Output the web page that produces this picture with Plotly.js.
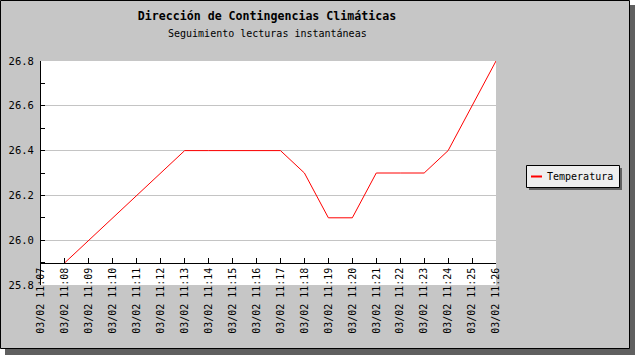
<!DOCTYPE html>
<html>
<head>
<meta charset="utf-8">
<script src="https://cdn.plot.ly/plotly-3.0.1.min.js"></script>
<style>html,body{margin:0;padding:0;background:#fff;}#chart{width:635px;height:355px;}</style>
</head>
<body>
<div id="chart"></div>
<script>
const times = ['03/02 11:07','03/02 11:08','03/02 11:09','03/02 11:10','03/02 11:11','03/02 11:12','03/02 11:13','03/02 11:14','03/02 11:15','03/02 11:16','03/02 11:17','03/02 11:18','03/02 11:19','03/02 11:20','03/02 11:21','03/02 11:22','03/02 11:23','03/02 11:24','03/02 11:25','03/02 11:26'];
const temperatura = [null, 25.9, 26.0, 26.1, 26.2, 26.3, 26.4, 26.4, 26.4, 26.4, 26.4, 26.3, 26.1, 26.1, 26.3, 26.3, 26.3, 26.4, 26.6, 26.8];
const seriesName = 'Temperatura';
const titleText = 'Dirección de Contingencias Climáticas';
const subtitleText = 'Seguimiento lecturas instantáneas';

const W = 635, H = 355, L = 41, R = 139, T = 61, B = 70;
const PW = W - L - R, PH = H - T - B;
const px = v => (v - L) / PW;
const py = v => (H - B - v) / PH;
const MONO = '"DejaVu Sans Mono", "Liberation Mono", monospace';

const rect = (x0, y0, x1, y1, fill, line, layer) => ({
  type: 'rect', xref: 'paper', yref: 'paper',
  x0: px(x0), x1: px(x1), y0: py(y0), y1: py(y1),
  fillcolor: fill, line: line ? {color: line, width: 1} : {width: 0},
  layer: layer || 'below'
});

const trace = {
  x: times, y: temperatura, type: 'scatter', mode: 'lines',
  name: seriesName, showlegend: false, connectgaps: false,
  line: {color: '#ff0000', width: 1}
};

const layout = {
  width: W, height: H,
  margin: {l: L, r: R, t: T, b: B, pad: 0},
  paper_bgcolor: '#ffffff',
  plot_bgcolor: 'rgba(0,0,0,0)',
  font: {family: MONO, size: 10, color: '#000'},
  showlegend: false,
  title: {
    text: '<b>' + titleText + '</b>',
    font: {family: MONO, size: 11.6, color: '#000'},
    xref: 'container', yref: 'container',
    x: 267 / W, xanchor: 'center',
    y: 1 - 16 / H, yanchor: 'middle'
  },
  xaxis: {
    type: 'category',
    range: [0, times.length - 1],
    anchor: 'free', position: 0.1,
    showline: true, linecolor: '#000', linewidth: 1,
    ticks: 'inside', ticklen: 5, tickcolor: '#000', tickwidth: 1,
    tickmode: 'linear', tick0: 0, dtick: 1,
    tickangle: -90,
    tickfont: {family: MONO, size: 10, color: '#000'},
    showgrid: false, zeroline: false, automargin: false, fixedrange: true
  },
  yaxis: {
    range: [25.8, 26.8],
    tick0: 25.8, dtick: 0.2, tickformat: '.1f',
    showline: true, linecolor: '#000', linewidth: 1,
    ticks: 'inside', ticklen: 4, tickcolor: '#000', tickwidth: 1,
    minor: {dtick: 0.1, ticks: 'inside', ticklen: 4, tickcolor: '#000', showgrid: false},
    tickfont: {family: MONO, size: 10.5, color: '#000'},
    ticklabelstandoff: 4,
    showgrid: true, gridcolor: '#c4c4c4', gridwidth: 1,
    zeroline: false, automargin: false, fixedrange: true
  },
  shapes: [
    rect(5, 5, 635, 355, '#606060'),
    rect(0.5, 0.5, 629.5, 348.5, '#c6c6c6', '#000000'),
    rect(L, T, W - R, H - B, '#ffffff'),
    rect(529, 168, 622, 190, '#606060', null, 'above'),
    rect(526.5, 165.5, 619.5, 187.5, '#eeeeee', '#000000', 'above'),
    {type: 'line', xref: 'paper', yref: 'paper', x0: px(531), x1: px(542), y0: py(176.5), y1: py(176.5),
     line: {color: '#ff0000', width: 2}, layer: 'above'}
  ],
  annotations: [
    {text: subtitleText, xref: 'paper', yref: 'paper', x: px(267), y: py(33.5),
     xanchor: 'center', yanchor: 'middle', showarrow: false,
     font: {family: MONO, size: 10, color: '#000'}},
    {text: seriesName, xref: 'paper', yref: 'paper', x: px(545), y: py(176.5),
     xanchor: 'left', yanchor: 'middle', showarrow: false,
     font: {family: MONO, size: 10, color: '#000'}}
  ]
};

Plotly.newPlot('chart', [trace], layout, {displayModeBar: false, staticPlot: true});
</script>
</body>
</html>
